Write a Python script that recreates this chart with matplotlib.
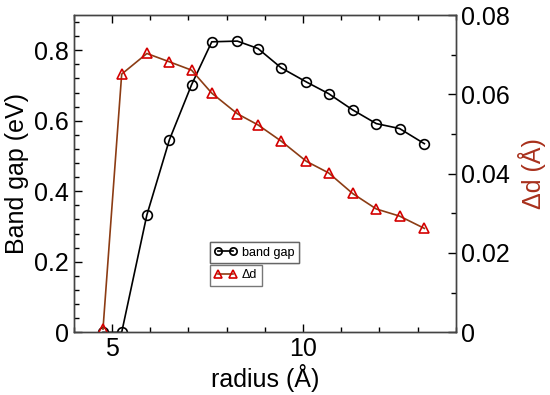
import matplotlib
matplotlib.use("Agg")
import matplotlib.pyplot as plt
from matplotlib.ticker import MultipleLocator

plt.rcParams['font.family'] = ['Liberation Sans', 'DejaVu Sans']

# data
radius = [4.76, 5.25, 5.91, 6.50, 7.08, 7.61, 8.28, 8.82, 9.43, 10.09,
          10.67, 11.30, 11.92, 12.53, 13.18]
band_gap = [0.0, 0.0, 0.333, 0.546, 0.702, 0.824, 0.826, 0.805, 0.750,
            0.710, 0.677, 0.631, 0.592, 0.578, 0.535]
delta_d = [0.0008, 0.0651, 0.0703, 0.0682, 0.0661, 0.0603, 0.0551, 0.0523,
           0.0482, 0.0431, 0.0402, 0.0350, 0.0311, 0.0293, 0.0262]

line_brown = '#8c3c14'
tri_red = '#d40000'
label_red = '#a8301c'

fig = plt.figure(figsize=(5.5, 3.95), dpi=100)
ax = fig.add_axes([0.1345, 0.1587, 0.694, 0.8033])
ax2 = ax.twinx()

l1, = ax.plot(radius, band_gap, color='black', lw=1.2, marker='o',
              markersize=7, markerfacecolor='none', markeredgecolor='black',
              markeredgewidth=1.2, label='band gap')
l2, = ax2.plot(radius, delta_d, color=line_brown, lw=1.2, marker='^',
               markersize=7, markerfacecolor='none', markeredgecolor=tri_red,
               markeredgewidth=1.2, label='Δd')

ax.set_xlim(4, 14)
ax.set_ylim(0, 0.9)
ax2.set_ylim(0, 0.08)

ax.xaxis.set_major_locator(MultipleLocator(5))
ax.xaxis.set_minor_locator(MultipleLocator(1))
ax.yaxis.set_major_locator(MultipleLocator(0.2))
ax.yaxis.set_minor_locator(MultipleLocator(0.04))
ax2.yaxis.set_major_locator(MultipleLocator(0.02))
ax2.yaxis.set_minor_locator(MultipleLocator(0.01))

ax.set_yticks([0, 0.2, 0.4, 0.6, 0.8])
ax.set_yticklabels(['0', '0.2', '0.4', '0.6', '0.8'])
ax2.set_yticks([0, 0.02, 0.04, 0.06, 0.08])
ax2.set_yticklabels(['0', '0.02', '0.04', '0.06', '0.08'])

ax.tick_params(axis='x', which='both', direction='in', top=True, labelsize=18)
ax.tick_params(axis='y', which='both', direction='in', right=False, labelsize=18)
ax2.tick_params(axis='y', which='both', direction='in', labelsize=18)
for a in (ax, ax2):
    a.tick_params(which='major', length=6, width=1)
    a.tick_params(which='minor', length=3.5, width=1)
    for sp in a.spines.values():
        sp.set_linewidth(1)
        sp.set_color('#444444')

ax.set_xlabel('radius (Å)', fontsize=18, labelpad=2)
ax.set_ylabel('Band gap (eV)', fontsize=18, labelpad=4)
ax2.set_ylabel('Δd (Å)', fontsize=18, color=label_red, labelpad=6)

leg1 = fig.legend(handles=[l1], loc='upper left', bbox_to_anchor=(0.382, 0.387),
                  fontsize=9, numpoints=2, handlelength=1.8, markerscale=0.75,
                  fancybox=False, edgecolor='#555555', borderpad=0.35,
                  handletextpad=0.4, borderaxespad=0)
fig.add_artist(leg1)
leg2 = fig.legend(handles=[l2], loc='upper left', bbox_to_anchor=(0.382, 0.329),
                  fontsize=9, numpoints=2, handlelength=1.8, markerscale=0.75,
                  fancybox=False, edgecolor='#555555', borderpad=0.35,
                  handletextpad=0.4, borderaxespad=0)
for lg in (leg1, leg2):
    lg.get_frame().set_linewidth(1)

fig.savefig('out.png', dpi=100)
